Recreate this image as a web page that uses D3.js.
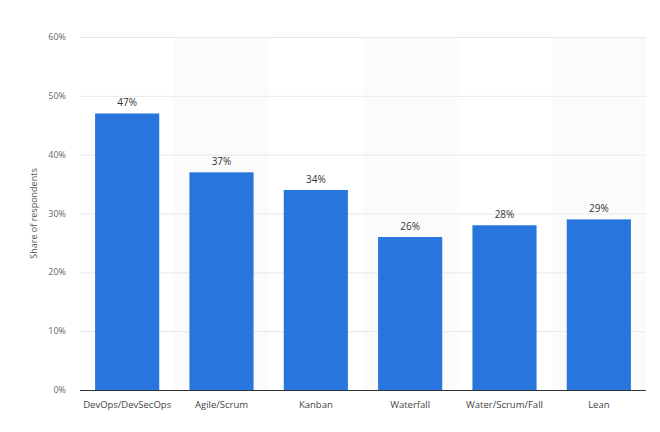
<!DOCTYPE html>
<html>
<head>
<meta charset="utf-8">
<script src="https://cdn.jsdelivr.net/npm/d3@7"></script>
<style>
  body { margin: 0; background: #fff; }
  svg { display: block; font-family: "Open Sans", "Noto Sans", sans-serif; }
</style>
</head>
<body>
<div id="chart"></div>
<script>
const categories = ["DevOps/DevSecOps", "Agile/Scrum", "Kanban", "Waterfall", "Water/Scrum/Fall", "Lean"];
const shares = [47, 37, 34, 26, 28, 29];
const yTicks = [0, 10, 20, 30, 40, 50, 60];

const width = 660;
const height = 432;
const margin = { top: 37, right: 14, bottom: 42, left: 80 };

const svg = d3.select("#chart")
  .append("svg")
  .attr("width", width)
  .attr("height", height);

const x = d3.scaleBand()
  .domain(categories)
  .range([margin.left, width - margin.right])
  .paddingInner(0.32)
  .paddingOuter(0.16);

const y = d3.scaleLinear()
  .domain([0, 60])
  .range([height - margin.bottom, margin.top]);

// alternating shaded columns
const step = x.step();
svg.append("g")
  .selectAll("rect")
  .data(categories.filter((d, i) => i % 2 === 1))
  .join("rect")
  .attr("x", d => x(d) + x.bandwidth() / 2 - step / 2)
  .attr("width", step)
  .attr("y", y(60))
  .attr("height", y(0) - y(60))
  .attr("fill", "#fbfbfb");

// gridlines
svg.append("g")
  .selectAll("line")
  .data(yTicks)
  .join("line")
  .attr("x1", margin.left)
  .attr("x2", width - margin.right)
  .attr("y1", d => y(d) + 0.5)
  .attr("y2", d => y(d) + 0.5)
  .attr("stroke", "#e8e8e8")
  .attr("stroke-width", 1);

// y tick labels
svg.append("g")
  .selectAll("text")
  .data(yTicks)
  .join("text")
  .attr("x", margin.left - 14)
  .attr("y", d => y(d))
  .attr("dy", "0.35em")
  .attr("text-anchor", "end")
  .attr("font-size", 9)
  .attr("fill", "#666")
  .text(d => d + "%");

// y axis title
svg.append("text")
  .attr("transform", `translate(37,${(y(0) + y(60)) / 2}) rotate(-90)`)
  .attr("text-anchor", "middle")
  .attr("font-size", 9)
  .attr("fill", "#555")
  .text("Share of respondents");

// bars
svg.append("g")
  .selectAll("rect")
  .data(shares)
  .join("rect")
  .attr("x", (d, i) => x(categories[i]))
  .attr("width", x.bandwidth())
  .attr("y", d => y(d))
  .attr("height", d => y(0) - y(d))
  .attr("fill", "#2876dd");

// value labels
svg.append("g")
  .selectAll("text")
  .data(shares)
  .join("text")
  .attr("x", (d, i) => x(categories[i]) + x.bandwidth() / 2)
  .attr("y", d => y(d) - 7)
  .attr("text-anchor", "middle")
  .attr("font-size", 10)
  .attr("fill", "#333")
  .text(d => d + "%");

// x axis line
svg.append("line")
  .attr("x1", margin.left)
  .attr("x2", width - margin.right)
  .attr("y1", y(0) + 0.5)
  .attr("y2", y(0) + 0.5)
  .attr("stroke", "#333")
  .attr("stroke-width", 1);

// x tick labels
svg.append("g")
  .selectAll("text")
  .data(categories)
  .join("text")
  .attr("x", d => x(d) + x.bandwidth() / 2)
  .attr("y", y(0) + 18)
  .attr("text-anchor", "middle")
  .attr("font-size", 9.5)
  .attr("fill", "#444")
  .text(d => d);
</script>
</body>
</html>
